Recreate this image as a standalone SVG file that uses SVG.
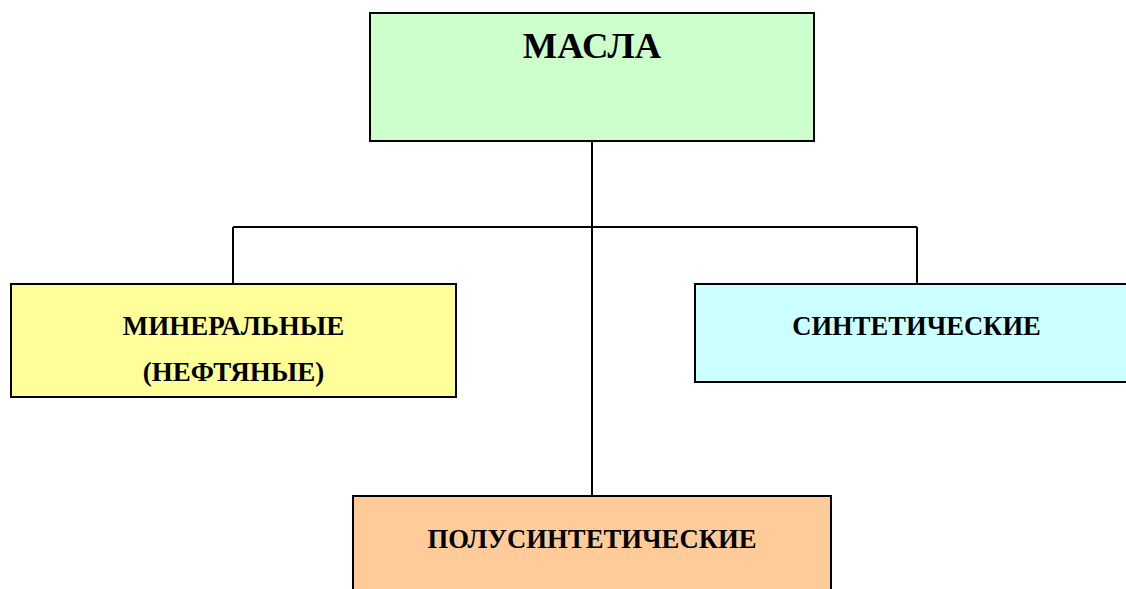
<svg xmlns="http://www.w3.org/2000/svg" width="1126" height="589" viewBox="0 0 1126 589">
<style>
.box{stroke:#000;stroke-width:2}
.t{font-family:"Liberation Serif","Times New Roman",serif;font-weight:bold;fill:#000;text-anchor:middle}
.conn{stroke:#000;stroke-width:2;fill:none}
</style>
<rect width="1126" height="589" fill="#fff"/>
<g id="connectors">
<path class="conn" d="M592 141 V496 M233 227 H917 M233 227 V283 M917 227 V283"/>
</g>
<g id="masla">
<rect class="box" x="370" y="13" width="444" height="128" fill="#CCFFCC"/>
<text class="t" x="592" y="58" font-size="36.6">МАСЛА</text>
</g>
<g id="mineral">
<rect class="box" x="11" y="284" width="445" height="113" fill="#FFFF99"/>
<text class="t" x="233.5" y="335" font-size="27">МИНЕРАЛЬНЫЕ</text>
<text class="t" x="233.5" y="381" font-size="27">(НЕФТЯНЫЕ)</text>
</g>
<g id="synth">
<rect class="box" x="695" y="284" width="440" height="98" fill="#CCFFFF"/>
<text class="t" x="916.5" y="335" font-size="26.6">СИНТЕТИЧЕСКИЕ</text>
</g>
<g id="semisynth">
<rect class="box" x="353" y="496" width="478" height="110" fill="#FFCC99"/>
<text class="t" x="592" y="548" font-size="26.7">ПОЛУСИНТЕТИЧЕСКИЕ</text>
</g>
</svg>
